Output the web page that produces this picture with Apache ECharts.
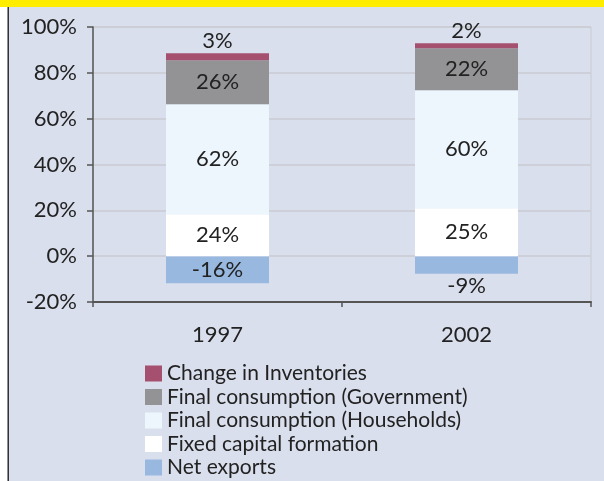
<!DOCTYPE html>
<html>
<head>
<meta charset="utf-8">
<script src="https://cdn.jsdelivr.net/npm/echarts@6/dist/echarts.min.js"></script>
<style>
  html, body { margin:0; padding:0; background:#fff; }
  #main { width:604px; height:481px; }
</style>
</head>
<body>
<div id="main"></div>
<script>
// categories
var years = ['1997', '2002'];
// bar heights as drawn (in % of the axis)
var netExports   = [-11.8, -7.7];
var fixedCapital = [18.3, 20.9];
var households   = [48.0, 51.5];
var government   = [19.2, 18.3];
var inventories  = [3.1, 2.2];
// printed labels
var netExportsTxt   = ['-16%', '-9%'];
var fixedCapitalTxt = ['24%', '25%'];
var householdsTxt   = ['62%', '60%'];
var governmentTxt   = ['26%', '22%'];
var inventoriesTxt  = ['3%', '2%'];
// y ticks
var yMin = -20, yMax = 100, yStep = 20;

var FONT = 'Lato';
var chart = echarts.init(document.getElementById('main'));

function mkData(vals, txts, pos){
  var out = [];
  for (var i = 0; i < vals.length; i++) {
    var item = { value: vals[i], txt: txts[i] };
    if (pos && pos[i]) {
      item.label = { position: pos[i], distance: 1 };
    }
    out.push(item);
  }
  return out;
}

function mkSeries(name, color, vals, txts, pos){
  return {
    name: name,
    type: 'bar',
    stack: 'total',
    barWidth: 103,
    itemStyle: { color: color },
    label: {
      show: true,
      position: 'inside',
      fontFamily: FONT,
      fontSize: 22,
      color: '#222',
      formatter: function(p){ return p.data.txt; }
    },
    emphasis: { disabled: true },
    data: mkData(vals, txts, pos)
  };
}

var option = {
  backgroundColor: '#dadfed',
  animation: false,
  graphic: [
    { type: 'rect', shape: { x: 0, y: 0, width: 604, height: 7 }, style: { fill: '#ffed00' }, z: 100 },
    { type: 'rect', shape: { x: 0, y: 7, width: 7.5, height: 474 }, style: { fill: '#ffffff' }, z: 100 },
    { type: 'rect', shape: { x: 7.5, y: 7, width: 1.5, height: 474 }, style: { fill: '#333333' }, z: 100 }
  ],
  grid: {
    left: 93, right: 13, top: 27, bottom: 179,
    show: true, borderColor: '#c8cbd2', borderWidth: 1, backgroundColor: 'transparent'
  },
  legend: {
    orient: 'vertical',
    left: 145,
    top: 363,
    height: 200,
    padding: 0,
    itemWidth: 17,
    itemHeight: 16,
    itemGap: 2.5,
    icon: 'rect',
    textStyle: { fontFamily: FONT, fontSize: 21, color: '#222' },
    data: ['Change in Inventories', 'Final consumption (Government)', 'Final consumption (Households)', 'Fixed capital formation', 'Net exports']
  },
  xAxis: {
    type: 'category',
    data: years,
    axisLine: { onZero: false, lineStyle: { color: '#555', width: 2 } },
    axisTick: { show: true, length: 5, lineStyle: { color: '#555', width: 1.5 } },
    axisLabel: { fontFamily: FONT, fontSize: 22, color: '#222', margin: 22 }
  },
  yAxis: {
    type: 'value',
    min: yMin, max: yMax, interval: yStep,
    axisLine: { show: true, lineStyle: { color: '#555', width: 1.5 } },
    axisTick: { show: true, length: 6, lineStyle: { color: '#555', width: 1.5 } },
    splitLine: { lineStyle: { color: '#c8cbd2', width: 1.5 } },
    axisLabel: { fontFamily: FONT, fontSize: 22, color: '#222', margin: 16, formatter: '{value}%' }
  },
  series: [
    mkSeries('Net exports', '#98b8e0', netExports, netExportsTxt, [null, 'bottom']),
    mkSeries('Fixed capital formation', '#ffffff', fixedCapital, fixedCapitalTxt),
    mkSeries('Final consumption (Households)', '#eef6fd', households, householdsTxt),
    mkSeries('Final consumption (Government)', '#939396', government, governmentTxt),
    mkSeries('Change in Inventories', '#a5506f', inventories, inventoriesTxt, ['top', 'top'])
  ]
};
chart.setOption(option);
</script>
</body>
</html>
